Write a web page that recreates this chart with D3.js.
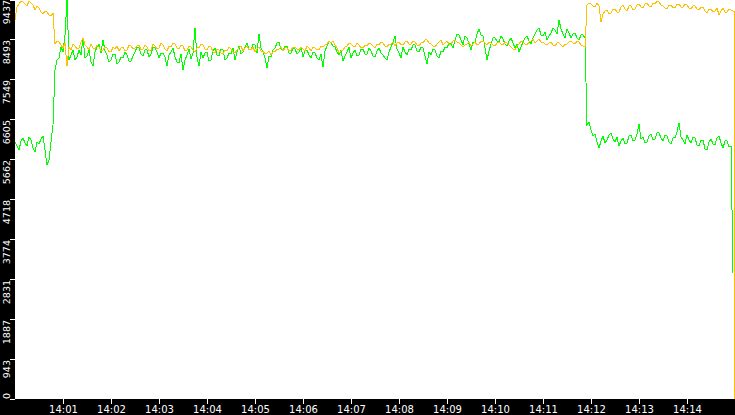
<!DOCTYPE html>
<html>
<head>
<meta charset="utf-8">
<script src="https://cdn.jsdelivr.net/npm/d3@7"></script>
<style>
  html, body { margin: 0; padding: 0; background: #fff; }
  svg { display: block; }
</style>
</head>
<body>
<div id="chart"></div>
<script>
// Chart data: one sample every 2.5 s starting at 14:00:00
const startTime = new Date(2000, 0, 1, 14, 0, 0);
const sampleSeconds = 2.5;
// the last two yellow samples (before and after the drop to 0) are both taken at this time
const yellowEndSeconds = 899.4;

const yellowValues = [
  8942, 9248, 9319, 9390, 9366, 9319, 9272, 9390, 9343, 9295,
  9177, 9272, 9225, 9130, 9083, 9154, 9130, 9060, 9036, 9107,
  8375, 8446, 8422, 8352, 8281, 8399, 7856, 8304, 8234, 8375,
  8328, 8257, 8281, 8422, 8517, 8352, 8304, 8234, 8375, 8281,
  8257, 8352, 8304, 8210, 8234, 8304, 8281, 8187, 8187, 8304,
  8257, 8328, 8210, 8281, 8304, 8210, 8234, 8352, 8328, 8257,
  8281, 8328, 8352, 8234, 8257, 8352, 8304, 8210, 8234, 8375,
  8328, 8257, 8281, 8399, 8352, 8257, 8210, 8328, 8304, 8399,
  8375, 8281, 8257, 8352, 8328, 8210, 8234, 8328, 8304, 8234,
  8187, 8281, 8281, 8375, 8352, 8257, 8234, 8328, 8304, 8187,
  8163, 8257, 8234, 8163, 8139, 8234, 8210, 8304, 8257, 8187,
  8163, 8234, 8281, 8328, 8210, 8281, 8328, 8234, 8234, 8304,
  8187, 8257, 8304, 8210, 8210, 8139, 8163, 8210, 8116, 8187,
  8187, 8257, 8257, 8304, 8210, 8281, 8281, 8210, 8234, 8304,
  8304, 8257, 8234, 8304, 8257, 8210, 8328, 8281, 8210, 8304,
  8281, 8234, 8234, 8328, 8304, 8352, 8375, 8446, 8399, 8446,
  8352, 8281, 8163, 8210, 8234, 8304, 8328, 8399, 8375, 8328,
  8304, 8399, 8352, 8281, 8281, 8352, 8328, 8399, 8375, 8328,
  8281, 8375, 8352, 8422, 8399, 8328, 8304, 8375, 8375, 8422,
  8328, 8399, 8422, 8352, 8352, 8422, 8446, 8375, 8375, 8446,
  8422, 8352, 8328, 8399, 8399, 8470, 8470, 8399, 8375, 8328,
  8304, 8375, 8422, 8470, 8352, 8399, 8446, 8375, 8375, 8446,
  8470, 8422, 8399, 8352, 8304, 8352, 8375, 8422, 8328, 8375,
  8422, 8352, 8375, 8446, 8446, 8399, 8352, 8422, 8399, 8352,
  8328, 8399, 8422, 8375, 8352, 8422, 8399, 8352, 8304, 8257,
  8234, 8328, 8375, 8446, 8422, 8375, 8352, 8422, 8446, 8493,
  8399, 8446, 8493, 8422, 8422, 8375, 8352, 8399, 8422, 8352,
  8328, 8399, 8399, 8352, 8304, 8375, 8375, 8422, 8446, 8399,
  8375, 8446, 8422, 8352, 8328, 8304, 9295, 9343, 9319, 9272,
  9248, 9343, 9272, 8894, 9083, 9154, 9177, 9083, 9107, 9201,
  9201, 9130, 9130, 9248, 9295, 9201, 9154, 9272, 9272, 9177,
  9201, 9295, 9319, 9248, 9225, 9319, 9343, 9272, 9248, 9343,
  9319, 9390, 9366, 9295, 9272, 9225, 9201, 9295, 9295, 9225,
  9225, 9319, 9319, 9248, 9248, 9319, 9295, 9225, 9201, 9272,
  9272, 9201, 9177, 9248, 9248, 9154, 9107, 9201, 9201, 9130,
  9154, 9225, 9060, 9154, 9225, 9130, 9130, 9201, 9177, 9130,
  0
];

const greenValues = [
  6063, 5969, 5874, 6087, 6158, 6040, 5969, 6181, 6110, 5922,
  5827, 6063, 6016, 6134, 6205, 5874, 5521, 5638, 6063, 6464,
  7762, 7998, 8045, 8304, 8187, 8588, 9437, 7998, 8116, 8234,
  7998, 8069, 8234, 8116, 8517, 8045, 8092, 8234, 7951, 7856,
  8187, 8304, 8375, 8163, 8470, 8210, 8116, 7951, 7998, 8139,
  8139, 7903, 7951, 8069, 8045, 8187, 8116, 7974, 7974, 8092,
  8187, 8304, 8281, 8139, 8092, 8234, 8234, 8069, 8139, 8304,
  8281, 8187, 8045, 8163, 8163, 8069, 7856, 8116, 8187, 8281,
  8069, 7951, 7927, 8139, 7762, 7998, 8116, 8257, 8021, 8163,
  8753, 8069, 7856, 8187, 8045, 8163, 8187, 7974, 7998, 8210,
  8281, 8116, 8092, 8257, 8234, 7998, 8045, 8163, 8139, 8281,
  7998, 8187, 8328, 8139, 8187, 8304, 8399, 8234, 8234, 8375,
  8352, 8163, 8611, 8281, 8187, 8045, 7809, 8092, 8069, 8234,
  8281, 8399, 8422, 8257, 8210, 8328, 8328, 8163, 8163, 8281,
  8257, 8139, 8187, 8304, 8069, 8210, 8234, 8116, 8045, 8187,
  8163, 8045, 7998, 8139, 7833, 8210, 8328, 8446, 8399, 8328,
  8304, 8187, 8116, 8234, 7974, 8092, 8187, 8304, 8045, 8163,
  8234, 8092, 8116, 8257, 8257, 8139, 8139, 8281, 8210, 8092,
  8069, 8210, 8281, 8163, 8116, 8045, 7998, 8187, 8304, 8422,
  8564, 8257, 8163, 8045, 8304, 8187, 8116, 8257, 8234, 8352,
  8352, 8210, 8187, 8304, 8281, 8092, 7903, 8187, 8116, 8257,
  8234, 8092, 8045, 8210, 8187, 8304, 8281, 8399, 8375, 8281,
  8470, 8611, 8588, 8470, 8352, 8564, 8517, 8375, 8234, 8422,
  8422, 8611, 8729, 8588, 8564, 8281, 7998, 8210, 8375, 8517,
  8517, 8446, 8422, 8564, 8493, 8375, 8328, 8446, 8517, 8399,
  8281, 8375, 8187, 8304, 8422, 8517, 8564, 8446, 8375, 8517,
  8611, 8706, 8753, 8588, 8564, 8658, 8470, 8564, 8635, 8753,
  8706, 8611, 8942, 8729, 8611, 8517, 8729, 8635, 8517, 8611,
  8635, 8517, 8470, 8588, 8588, 8517, 6464, 6535, 6346, 6205,
  6252, 6063, 5922, 6087, 6205, 6040, 6110, 6228, 6276, 6134,
  6063, 6181, 5969, 6087, 6158, 6016, 6040, 6205, 6228, 6087,
  6110, 6252, 6488, 6134, 6181, 6040, 6063, 6205, 6252, 6110,
  6134, 6276, 6276, 6158, 6087, 6228, 6205, 6063, 6016, 6158,
  6158, 6299, 6511, 6181, 6110, 6016, 6228, 6110, 6040, 6181,
  6158, 5993, 5969, 6110, 6110, 5898, 5874, 6063, 6134, 6016,
  5993, 6158, 6205, 6040, 5922, 6087, 6087, 5946, 5969, 2973
];

const yMax = 9437;
const yTicks = [0, 943, 1887, 2831, 3774, 4718, 5662, 6605, 7549, 8493, 9437];
const xTickLabels = ["14:01", "14:02", "14:03", "14:04", "14:05", "14:06", "14:07",
  "14:08", "14:09", "14:10", "14:11", "14:12", "14:13", "14:14"];

// Layout
const width = 735;
const height = 415;
const plotLeft = 15;
const plotBottom = 399;
const yellow = "#ffc000";
const green = "#00ff00";

// endCount trailing samples are placed at endSeconds instead of the regular grid
const toPoints = (values, endSeconds, endCount) => values.map((v, i) => {
  const s = (endSeconds != null && i >= values.length - endCount) ? endSeconds : i * sampleSeconds;
  return { t: new Date(startTime.getTime() + s * 1000), v };
});

const x = d3.scaleTime()
  .domain([startTime, new Date(startTime.getTime() + 15 * 60 * 1000)])
  .range([plotLeft, width]);

const y = d3.scaleLinear()
  .domain([0, yMax])
  .range([plotBottom, -1]);

const svg = d3.select("#chart").append("svg")
  .attr("width", width)
  .attr("height", height);

svg.append("rect").attr("width", width).attr("height", height).attr("fill", "#fff");

svg.append("clipPath").attr("id", "plot-clip")
  .append("rect")
  .attr("x", plotLeft).attr("y", 0)
  .attr("width", width - plotLeft).attr("height", plotBottom);

const line = d3.line()
  .x(d => x(d.t))
  .y(d => y(d.v));

const plot = svg.append("g").attr("clip-path", "url(#plot-clip)");

[[greenValues, green, null, 0], [yellowValues, yellow, yellowEndSeconds, 2]]
  .forEach(([values, color, end, count]) => {
    plot.append("path")
      .datum(toPoints(values, end, count))
      .attr("d", line)
      .attr("fill", "none")
      .attr("stroke", color)
      .attr("stroke-width", 1)
      .attr("shape-rendering", "crispEdges");
  });

// Black axis bands
svg.append("rect")
  .attr("x", 0).attr("y", 0)
  .attr("width", plotLeft).attr("height", height)
  .attr("fill", "#000");
svg.append("rect")
  .attr("x", 0).attr("y", plotBottom)
  .attr("width", width).attr("height", height - plotBottom)
  .attr("fill", "#000");

// X axis
const xTickDates = xTickLabels.map(l => {
  const [h, m] = l.split(":").map(Number);
  return new Date(2000, 0, 1, h, m, 0);
});
const xAxis = svg.append("g")
  .attr("transform", `translate(0,${plotBottom})`)
  .call(d3.axisBottom(x).tickValues(xTickDates).tickSize(5).tickPadding(2)
    .tickFormat((d, i) => xTickLabels[i]));
xAxis.select(".domain").remove();
xAxis.selectAll("line").attr("stroke", "#fff").attr("shape-rendering", "crispEdges");
xAxis.selectAll("text")
  .attr("fill", "#fff")
  .attr("font-family", "DejaVu Sans")
  .attr("font-size", "10px");

// Y axis, labels rotated and hanging below their tick
const yAxis = svg.append("g")
  .attr("transform", `translate(${plotLeft},0)`)
  .call(d3.axisLeft(y).tickValues(yTicks).tickSize(5).tickFormat(d3.format("d")));
yAxis.select(".domain").remove();
yAxis.selectAll("line").attr("stroke", "#fff").attr("shape-rendering", "crispEdges");
yAxis.selectAll("g.tick").attr("transform", null);
yAxis.selectAll("g.tick line").attr("y1", d => Math.max(0.5, y(d))).attr("y2", d => Math.max(0.5, y(d)));
yAxis.selectAll("text")
  .attr("fill", "#fff")
  .attr("font-family", "DejaVu Sans")
  .attr("font-size", "9.5px")
  .attr("x", null).attr("y", null).attr("dy", null)
  .attr("text-anchor", d => d === 0 ? "start" : "end")
  .attr("dominant-baseline", "central")
  .attr("transform", d => {
    const ty = d === 0 ? y(d) : Math.max(0, y(d) + 1);
    return `translate(-9,${ty}) rotate(-90)`;
  });
</script>
</body>
</html>
